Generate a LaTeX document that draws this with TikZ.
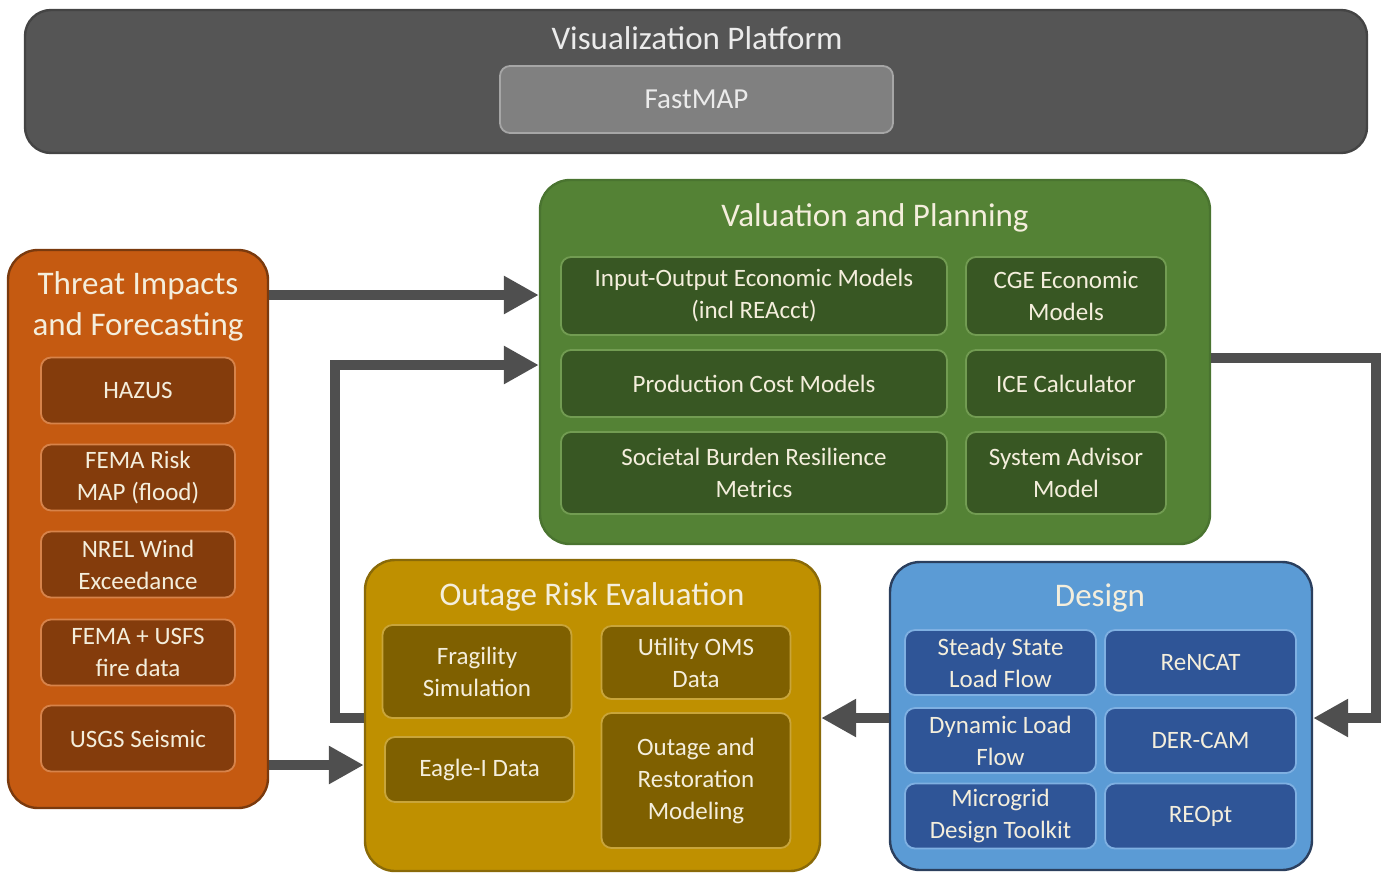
\documentclass[tikz,border=0pt]{standalone}
\usepackage{fontspec}
\setmainfont{Carlito}
\usepackage{xcolor}
\usepackage{tikz}
\usetikzlibrary{arrows.meta, positioning}

\definecolor{vizgrey}{HTML}{555555}
\definecolor{vizline}{HTML}{444444}
\definecolor{mapgrey}{HTML}{808080}
\definecolor{mapline}{HTML}{A6A6A6}
\definecolor{threatfill}{HTML}{C55A11}
\definecolor{threatline}{HTML}{7A3A0E}
\definecolor{threatsub}{HTML}{843C0C}
\definecolor{threatsubline}{HTML}{D7834A}
\definecolor{valfill}{HTML}{548235}
\definecolor{valline}{HTML}{4A7430}
\definecolor{valsub}{HTML}{385723}
\definecolor{valsubline}{HTML}{729C52}
\definecolor{outfill}{HTML}{BF9000}
\definecolor{outline}{HTML}{8A6A08}
\definecolor{outsub}{HTML}{7F6000}
\definecolor{outsubline}{HTML}{C9A53A}
\definecolor{desfill}{HTML}{5B9BD5}
\definecolor{desline}{HTML}{2B3F5E}
\definecolor{dessub}{HTML}{2F5597}
\definecolor{dessubline}{HTML}{7FB0E2}
\definecolor{flowgrey}{HTML}{4F4F4F}
\definecolor{cream}{HTML}{F4EEDC}

\tikzset{
  panel/.style={draw, line width=1.2pt, rounded corners=15pt, inner sep=0pt},
  heading/.style={text=cream, align=center, font=\fontsize{16.5}{20.5}\selectfont},
  toolbox/.style={draw, line width=0.9pt, rounded corners=5pt, inner sep=0pt,
    align=center, text=cream, font=\fontsize{12.5}{16}\selectfont},
  flow/.style={draw=flowgrey, line width=5pt,
    -{Triangle[length=17.5pt, width=18pt]}},
}

\begin{document}
\begin{tikzpicture}[x=0.5pt, y=-0.5pt]
\useasboundingbox (0,0) rectangle (1384,873);

% visualization platform
\node[panel, fill=vizgrey, draw=vizline, minimum width=671pt, minimum height=71.5pt,
  rounded corners=13pt] (viz) at (696,81.5) {};
\node[heading, text=white!92!black] (viztitle) at (697,38) {Visualization Platform};
\node[toolbox, fill=mapgrey, draw=mapline, text=white!92!black, minimum width=196.5pt,
  minimum height=33.5pt, font=\fontsize{14.5}{18}\selectfont] (fastmap) at (696.5,99.5) {FastMAP};

% threat impacts
\node[panel, fill=threatfill, draw=threatline, minimum width=130pt, minimum height=279pt]
  (threat) at (138,529) {};
\node[heading] (threattitle) at (138,306) {Threat Impacts\\and Forecasting};
\foreach \nm/\y/\txt in {hazus/390.5/{HAZUS}, femarisk/477.5/{FEMA Risk\\MAP (flood)},
    nrelwind/564.5/{NREL Wind\\Exceedance}, femafire/652.5/{FEMA + USFS\\fire data},
    usgs/738.5/{USGS Seismic}}{
  \node[toolbox, fill=threatsub, draw=threatsubline, minimum width=97pt,
    minimum height=33pt] (\nm) at (138,\y) {\txt};
}

% valuation and planning
\node[panel, fill=valfill, draw=valline, minimum width=335pt, minimum height=182pt]
  (valuation) at (875,362) {};
\node[heading] (valtitle) at (875,218) {Valuation and Planning};
\tikzset{valbox/.style={toolbox, fill=valsub, draw=valsubline}}
\node[valbox, minimum width=193pt, minimum height=39pt] (iomodels) at (754,296)
  {Input-Output Economic Models\\(incl REAcct)};
\node[valbox, minimum width=100pt, minimum height=39pt] (cge) at (1066,296)
  {CGE Economic\\Models};
\node[valbox, minimum width=193pt, minimum height=33.5pt] (prodcost) at (754,383.5)
  {Production Cost Models};
\node[valbox, minimum width=100pt, minimum height=33.5pt] (ice) at (1066,383.5)
  {ICE Calculator};
\node[valbox, minimum width=193pt, minimum height=41pt] (burden) at (754,473)
  {Societal Burden Resilience\\Metrics};
\node[valbox, minimum width=100pt, minimum height=41pt] (sam) at (1066,473)
  {System Advisor\\Model};

% outage risk evaluation
\node[panel, fill=outfill, draw=outline, minimum width=227.5pt, minimum height=155.5pt]
  (outage) at (592.5,715.5) {};
\node[heading] (outtitle) at (592,597) {Outage Risk Evaluation};
\tikzset{outbox/.style={toolbox, fill=outsub, draw=outsubline, minimum width=94.5pt}}
\node[outbox, minimum height=46.5pt] (fragility) at (477,671.5) {Fragility\\Simulation};
\node[outbox, minimum height=32.5pt] (eaglei) at (479.5,769.5) {Eagle-I Data};
\node[outbox, minimum height=36.5pt] (oms) at (696,662.5) {Utility OMS\\Data};
\node[outbox, minimum height=67.5pt] (restoration) at (696,780.5)
  {Outage and\\Restoration\\Modeling};

% design
\node[panel, fill=desfill, draw=desline, minimum width=211pt, minimum height=154pt]
  (design) at (1101,716) {};
\node[heading] (destitle) at (1100,598) {Design};
\foreach \nm/\x/\y/\txt in {steady/1000.5/662.5/{Steady State\\Load Flow},
    rencat/1200.5/662.5/{ReNCAT}, dynamic/1000.5/740.5/{Dynamic Load\\Flow},
    dercam/1200.5/740.5/{DER-CAM}, microgrid/1000.5/816/{Microgrid\\Design Toolkit},
    reopt/1200.5/816/{REOpt}}{
  \node[toolbox, fill=dessub, draw=dessubline, minimum width=95.5pt,
    minimum height=32.5pt] (\nm) at (\x,\y) {\txt};
}

% connectors
\coordinate (threatrow) at (0,295);
\coordinate (feedrow) at (0,365);
\coordinate (seisrow) at (0,765);
\coordinate (loopleft) at (335,718);
\coordinate (loopright) at (1376,358);
\coordinate (designrow) at (0,718);

\draw[flow] (threat.east |- threatrow) -- (valuation.west |- threatrow);
\draw[flow] (outage.west |- loopleft) -- (loopleft) |- (valuation.west |- feedrow);
\draw[flow] (threat.east |- seisrow) -- (outage.west |- seisrow);
\draw[flow] (valuation.east |- loopright) -- (loopright) |- (design.east |- designrow);
\draw[flow] (design.west |- designrow) -- (outage.east |- designrow);
\end{tikzpicture}
\end{document}
